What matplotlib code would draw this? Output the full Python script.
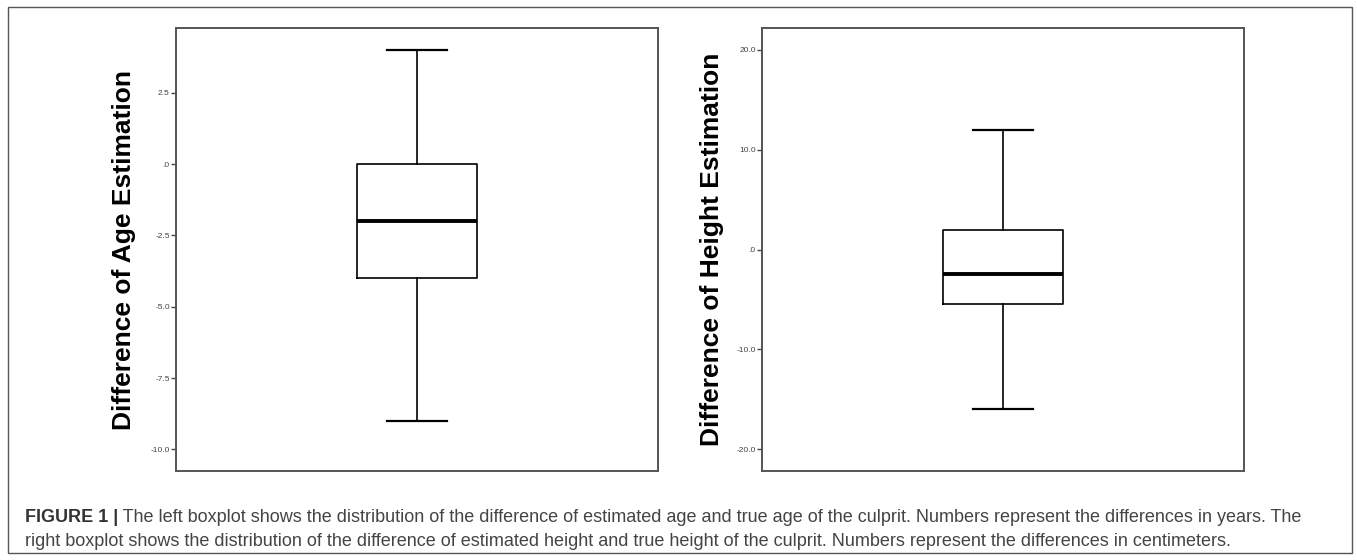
import matplotlib
matplotlib.use("Agg")
import matplotlib.pyplot as plt
from matplotlib.patches import Rectangle

# ---- data ----
age_stats = dict(whishi=4.0, q3=0.0, med=-2.0, q1=-4.0, whislo=-9.0)
height_stats = dict(whishi=12.0, q3=2.0, med=-2.5, q1=-5.5, whislo=-16.0)

age_ticks = [2.5, 0.0, -2.5, -5.0, -7.5, -10.0]
age_ticklabels = ["2.5", ".0", "-2.5", "-5.0", "-7.5", "-10.0"]
height_ticks = [20.0, 10.0, 0.0, -10.0, -20.0]
height_ticklabels = ["20.0", "10.0", ".0", "-10.0", "-20.0"]

age_ylabel = "Difference of Age Estimation"
height_ylabel = "Difference of Height Estimation"

caption_bold = "FIGURE 1 |"
caption_line1 = (" The left boxplot shows the distribution of the difference of estimated age and true age "
                 "of the culprit. Numbers represent the differences in years. The")
caption_line2 = ("right boxplot shows the distribution of the difference of estimated height and true height "
                 "of the culprit. Numbers represent the differences in centimeters.")

plt.rcParams['font.family'] = ['Liberation Sans', 'DejaVu Sans']

W, H = 1357, 560
fig = plt.figure(figsize=(W / 100, H / 100), dpi=100)

# outer frame
fig.patches.append(Rectangle((8 / W, 7 / H), (1352 - 8) / W, (553 - 7) / H,
                             transform=fig.transFigure, fill=False,
                             edgecolor="#555555", linewidth=1.0))


def px_axes(x0, x1, y0, y1):
    return fig.add_axes([x0 / W, 1 - y1 / H, (x1 - x0) / W, (y1 - y0) / H])


def draw(ax, stats, ylim, ticks, ticklabels, ylabel, labelx):
    s = dict(stats)
    s["label"] = ""
    ax.bxp([s], positions=[1], widths=0.5, showfliers=False,
           boxprops=dict(color="black", linewidth=1.2),
           whiskerprops=dict(color="black", linewidth=1.2),
           capprops=dict(color="black", linewidth=1.6),
           medianprops=dict(color="black", linewidth=2.8),
           capwidths=0.245)
    ax.set_xlim(0, 2)
    ax.set_ylim(*ylim)
    ax.set_xticks([])
    ax.set_yticks(ticks)
    ax.set_yticklabels(ticklabels)
    ax.tick_params(axis="y", labelsize=6, labelcolor="#444444", color="#444444",
                   length=3.5, width=1.0, pad=1)
    for sp in ax.spines.values():
        sp.set_color("#555555")
        sp.set_linewidth(1.4)
    ax.set_ylabel(ylabel, fontsize=19, fontweight="bold", color="black")
    ax.yaxis.set_label_coords(labelx, 0.5)


ax1 = px_axes(176, 658, 28, 471)
draw(ax1, age_stats, (-10.76, 4.77), age_ticks, age_ticklabels, age_ylabel, -0.083)

ax2 = px_axes(762, 1244, 28, 471)
draw(ax2, height_stats, (-22.2, 22.2), height_ticks, height_ticklabels, height_ylabel, -0.079)

# caption
cap_size = 12.95
t = fig.text(25 / W, 1 - 518 / H, caption_bold, fontsize=cap_size, fontweight="bold",
             color="#333333", va="center", ha="left")
fig.canvas.draw()
bb = t.get_window_extent()
fig.text(bb.x1 / W, 1 - 518 / H, caption_line1, fontsize=cap_size, color="#444444",
         va="center", ha="left")
fig.text(25 / W, 1 - 541 / H, caption_line2, fontsize=cap_size, color="#444444",
         va="center", ha="left")

fig.savefig("out.png", dpi=100)
